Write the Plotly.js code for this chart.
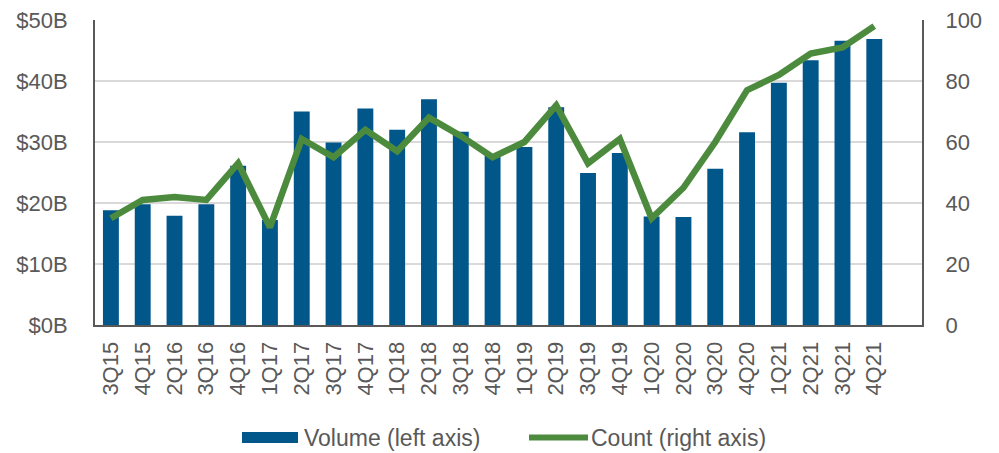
<!DOCTYPE html>
<html>
<head>
<meta charset="utf-8">
<script src="https://cdn.plot.ly/plotly-3.0.1.min.js"></script>
<style>
html,body{margin:0;padding:0;background:#fff;}
#chart{width:999px;height:453px;}
</style>
</head>
<body>
<div id="chart"></div>
<script>
// ---- data ----
const quarters = ["3Q15","4Q15","2Q16","3Q16","4Q16","1Q17","2Q17","3Q17","4Q17","1Q18","2Q18","3Q18","4Q18","1Q19","2Q19","3Q19","4Q19","1Q20","2Q20","3Q20","4Q20","1Q21","2Q21","3Q21","4Q21"];
const volumeB = [18.8,19.8,17.9,19.8,26.1,17.2,35.0,29.9,35.5,32.0,37.0,31.7,27.9,29.2,35.7,24.9,28.2,17.8,17.7,25.6,31.6,39.7,43.4,46.6,46.9];
const count = [35,41,42,41,53,32,61,55,64,57,68,62,55,60,72,53,61,35,45,60,77,82,89,91,98];
const leftTickVals = [0,10,20,30,40,50];
const leftTickText = ["$0B","$10B","$20B","$30B","$40B","$50B"];
const rightTickVals = [0,20,40,60,80,100];
const legendNames = ["Volume (left axis)","Count (right axis)"];

// ---- styles ----
const BLUE = "#01568A";
const GREEN = "#4C8B3E";
const AXIS = "#595959";
const GRID = "#D9D9D9";
const FONT = "Liberation Sans, Arial, sans-serif";

const traces = [
  {
    type: "bar", x: quarters, y: volumeB, name: legendNames[0],
    marker: {color: BLUE}, width: 0.5, yaxis: "y", hoverinfo: "x+y"
  },
  {
    type: "scatter", mode: "lines", x: quarters, y: count, name: legendNames[1],
    line: {color: GREEN, width: 6.5}, yaxis: "y2"
  }
];

// plot area in pixels: x 95..922, y 20..325
const L = 95, R = 922, T = 20, B = 325;
const px = v => (v - L) / (R - L);
const py = v => (B - v) / (B - T);

const layout = {
  width: 999, height: 453,
  margin: {l: L, r: 999 - R, t: T, b: 453 - B, pad: 0},
  paper_bgcolor: "#fff", plot_bgcolor: "#fff",
  showlegend: false,
  font: {family: FONT, color: AXIS, size: 22},
  xaxis: {
    type: "category", range: [-0.5, 25.5],
    tickangle: -90, showline: true, linecolor: AXIS, linewidth: 2,
    showgrid: false, ticks: "", ticklabelstandoff: 6,
    tickfont: {family: FONT, size: 22, color: AXIS}
  },
  yaxis: {
    range: [0, 50], tickvals: leftTickVals, ticktext: leftTickText,
    showline: true, linecolor: AXIS, linewidth: 2,
    showgrid: true, gridcolor: GRID, gridwidth: 2, zeroline: false,
    ticks: "", ticklabelstandoff: 21,
    tickfont: {family: FONT, size: 22, color: AXIS}
  },
  yaxis2: {
    range: [0, 100], tickvals: rightTickVals, overlaying: "y", side: "right",
    showline: true, linecolor: AXIS, linewidth: 2,
    showgrid: false, zeroline: false, ticks: "", ticklabelstandoff: 17,
    tickfont: {family: FONT, size: 22, color: AXIS}
  },
  shapes: [
    {type: "rect", xref: "paper", yref: "paper",
     x0: px(242), x1: px(298), y0: py(443), y1: py(432),
     fillcolor: BLUE, line: {width: 0}},
    {type: "line", xref: "paper", yref: "paper",
     x0: px(529), x1: px(588), y0: py(437.5), y1: py(437.5),
     line: {color: GREEN, width: 6}}
  ],
  annotations: [
    {xref: "paper", yref: "paper", x: px(302), y: py(437.5), xanchor: "left", yanchor: "middle",
     text: legendNames[0], showarrow: false, font: {family: FONT, size: 23, color: AXIS}},
    {xref: "paper", yref: "paper", x: px(589), y: py(437.5), xanchor: "left", yanchor: "middle",
     text: legendNames[1], showarrow: false, font: {family: FONT, size: 23, color: AXIS}}
  ]
};

Plotly.newPlot("chart", traces, layout, {displayModeBar: false, staticPlot: true});
</script>
</body>
</html>
